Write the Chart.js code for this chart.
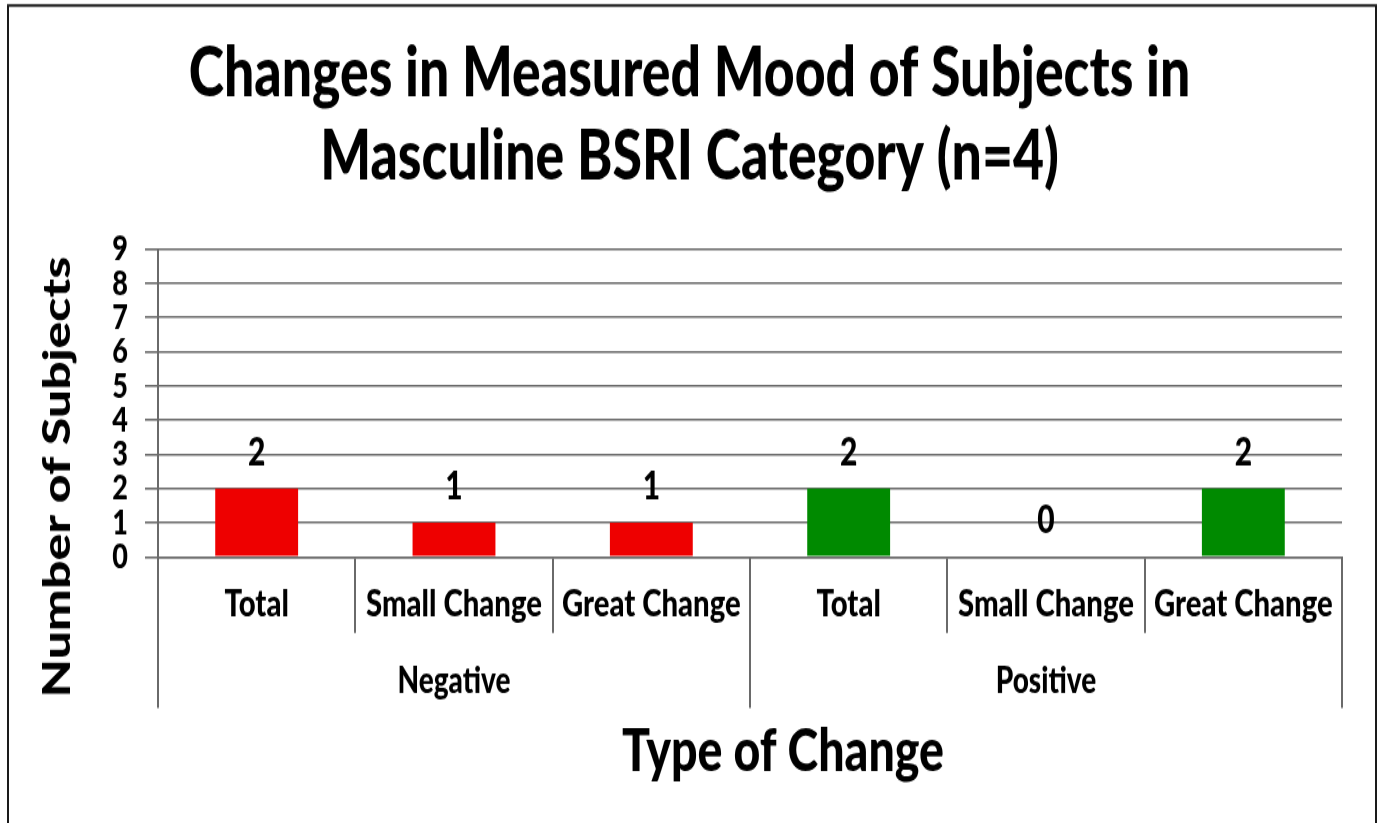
<!DOCTYPE html>
<html>
<head>
<meta charset="utf-8">
<script src="https://cdn.jsdelivr.net/npm/chart.js@4.4.1/dist/chart.umd.min.js"></script>
<style>
  html, body { margin: 0; padding: 0; background: #fff; }
  #wrap { width: 1379px; height: 823px; position: relative; overflow: hidden; }
  #c { display: block; width: 1379px; height: 823px; }
</style>
</head>
<body>
<div id="wrap"><canvas id="c" width="1379" height="633" style="width:1379px;height:823px"></canvas></div>
<script>
// ---- data ----
const categories = ['Total', 'Small Change', 'Great Change', 'Total', 'Small Change', 'Great Change'];
const groups = ['Negative', 'Positive'];
const groupOf = [0, 0, 0, 1, 1, 1];
const values = [2, 1, 1, 2, 0, 2];
const barColors = ['#ee0000', '#ee0000', '#ee0000', '#008a00', '#008a00', '#008a00'];
const yMin = 0;
const yMax = 9;
const yStep = 1;
const titleLines = ['Changes in Measured Mood of Subjects in', 'Masculine BSRI Category (n=4)'];
const xTitle = 'Type of Change';
const yTitle = 'Number of Subjects';

// ---- styles / layout ----
// the reference picture is stretched vertically; the canvas is drawn shorter and stretched by CSS
const S = 823 / 633;
const FONT = 'Lato, "Open Sans", "Liberation Sans", sans-serif';
const W = '900';
const GRID = '#6a6a6a';

function fit(text, target) {
  const c = document.createElement('canvas').getContext('2d');
  c.font = W + ' 100px ' + FONT;
  return 100 * target / c.measureText(text).width;
}
const titleSize = fit(titleLines[0], 1002);
const catSize = fit('Small Change', 176);
const groupSize = fit('Negative', 113);
const xTitleSize = fit(xTitle, 322);
const yTitleSize = fit(yTitle, 441 / S);
const tickSize = 27;
const valueSize = 30;

const chartTop = 249 / S;
const chartBottom = 557 / S;
const titleLH = 83 / S;
const titlePadTop = 74 / S - titleLH / 2;
const titlePadBottom = chartTop - titlePadTop - 2 * titleLH;
const xTickLen = 76 / S;
const catLH = catSize * 1.2;
const catPad = 604 / S - chartBottom - xTickLen - catLH / 2;

const deco = {
  id: 'deco',
  beforeDraw(chart) {
    const ctx = chart.ctx;
    ctx.save();
    ctx.fillStyle = '#fff';
    ctx.fillRect(0, 0, chart.width, chart.height);
    ctx.restore();
  },
  afterDraw(chart) {
    const ctx = chart.ctx, xs = chart.scales.x, ca = chart.chartArea;
    ctx.save();
    // outer frame
    ctx.strokeStyle = '#1a1a1a';
    ctx.lineWidth = 2;
    ctx.beginPath();
    ctx.moveTo(8, 700); ctx.lineTo(8, 5.5 / S); ctx.lineTo(1376, 5.5 / S); ctx.lineTo(1376, 700);
    ctx.stroke();

    // group dividers and labels
    const half = (xs.getPixelForValue(1) - xs.getPixelForValue(0)) / 2;
    ctx.strokeStyle = GRID;
    ctx.lineWidth = 2;
    const bounds = [];
    groups.forEach((g, gi) => {
      const idx = groupOf.map((v, i) => v === gi ? i : -1).filter(i => i >= 0);
      const l = xs.getPixelForValue(idx[0]) - half;
      const r = xs.getPixelForValue(idx[idx.length - 1]) + half;
      if (!bounds.includes(l)) bounds.push(l);
      bounds.push(r);
      ctx.fillStyle = '#000';
      ctx.font = W + ' ' + groupSize + 'px ' + FONT;
      ctx.textAlign = 'center';
      ctx.textBaseline = 'middle';
      ctx.fillText(g, (l + r) / 2, ca.bottom + 124 / S);
    });
    bounds.forEach(b => {
      ctx.beginPath();
      ctx.moveTo(b, ca.bottom);
      ctx.lineTo(b, ca.bottom + 151 / S);
      ctx.stroke();
    });

    // data labels
    const meta = chart.getDatasetMeta(0);
    ctx.fillStyle = '#000';
    ctx.font = W + ' ' + valueSize + 'px ' + FONT;
    ctx.textAlign = 'center';
    ctx.textBaseline = 'middle';
    meta.data.forEach((bar, i) => {
      ctx.fillText(String(values[i]), bar.x, bar.y - 36 / S);
    });

    // x title
    ctx.font = W + ' ' + xTitleSize + 'px ' + FONT;
    ctx.fillText(xTitle, (ca.left + ca.right) / 2 + 33, ca.bottom + 194 / S);

    // y title
    ctx.save();
    ctx.translate(58, ca.bottom - 80 / S);
    ctx.rotate(-Math.PI / 2);
    ctx.font = W + ' ' + yTitleSize + 'px ' + FONT;
    ctx.fillText(yTitle, 0, 0);
    ctx.restore();

    ctx.restore();
  }
};

new Chart(document.getElementById('c'), {
  type: 'bar',
  data: {
    labels: categories,
    datasets: [{
      data: values,
      backgroundColor: barColors,
      borderWidth: 0,
      barPercentage: 0.42,
      categoryPercentage: 1.0
    }]
  },
  options: {
    responsive: false,
    animation: false,
    devicePixelRatio: 1,
    layout: { padding: 0 },
    plugins: {
      legend: { display: false },
      tooltip: { enabled: false },
      title: {
        display: true,
        text: titleLines,
        color: '#000',
        font: { family: FONT, size: titleSize, weight: W, lineHeight: titleLH / titleSize },
        padding: { top: titlePadTop, bottom: titlePadBottom }
      }
    },
    scales: {
      x: {
        offset: true,
        afterFit(scale) { scale.height = 633 - chartBottom; },
        grid: {
          offset: true,
          drawOnChartArea: false,
          drawTicks: true,
          tickLength: xTickLen,
          color: GRID,
          lineWidth: 2
        },
        border: { display: true, color: GRID, width: 1.6 },
        ticks: {
          color: '#000',
          padding: catPad,
          maxRotation: 0,
          autoSkip: false,
          font: { family: FONT, size: catSize, weight: W, lineHeight: 1.2 }
        }
      },
      y: {
        min: yMin,
        max: yMax,
        afterFit(scale) { scale.width = 158; },
        grid: {
          color: GRID,
          lineWidth: 1.6,
          drawTicks: true,
          tickLength: 13
        },
        border: { display: true, color: GRID, width: 2 },
        ticks: {
          stepSize: yStep,
          autoSkip: false,
          color: '#000',
          padding: 17,
          font: { family: FONT, size: tickSize, weight: W }
        }
      },
      yRight: {
        position: 'right',
        display: true,
        afterFit(scale) { scale.width = 1379 - 1342; },
        grid: { display: false, drawTicks: false },
        border: { display: false },
        ticks: { display: false }
      }
    }
  },
  plugins: [deco]
});
</script>
</body>
</html>
